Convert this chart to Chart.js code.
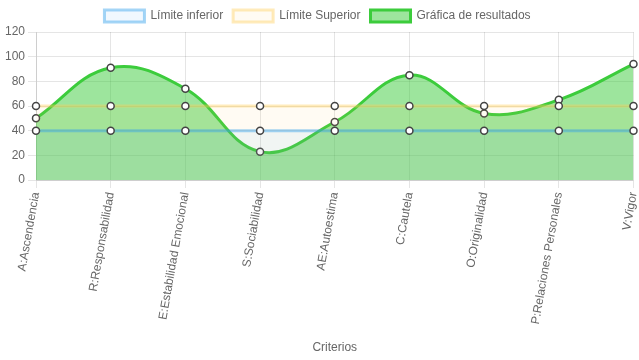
<!DOCTYPE html>
<html>
<head>
    <title>Criterios</title>
    <script src="https://cdn.jsdelivr.net/npm/chart.js@4.4.0/dist/chart.umd.min.js"></script>
    <style>
        body { margin: 0; padding: 0; background: #fff; }
        #wrap { width: 639px; height: 360px; }
    </style>
</head>
<body>
    <div id="wrap"><canvas id="chart"></canvas></div>
    <script>
        const categories = ['A:Ascendencia', 'R:Responsabilidad', 'E:Estabilidad Emocional', 'S:Sociabilidad',
            'AE:Autoestima', 'C:Cautela', 'O:Originalidad', 'P:Relaciones Personales', 'V:Vigor'];
        const lowerLimit = [40, 40, 40, 40, 40, 40, 40, 40, 40];
        const upperLimit = [60, 60, 60, 60, 60, 60, 60, 60, 60];
        const results = [50, 91, 74, 23, 47, 85, 54, 65, 94];
        const yTicks = [0, 20, 40, 60, 80, 100, 120];

        Chart.defaults.font.family = 'Arial, "Liberation Sans", sans-serif';
        Chart.defaults.font.size = 12;
        Chart.defaults.color = '#666';

        const pointStyle = {
            pointBackgroundColor: '#fff',
            pointBorderColor: '#444',
            pointBorderWidth: 1.5,
            pointRadius: 3.5
        };

        new Chart(document.getElementById('chart'), {
            type: 'line',
            data: {
                labels: categories,
                datasets: [
                    Object.assign({
                        label: 'Límite inferior',
                        data: lowerLimit,
                        borderColor: 'rgba(54, 162, 235, 0.45)',
                        backgroundColor: 'rgba(54, 162, 235, 0.07)',
                        borderWidth: 3,
                        fill: 'origin',
                        tension: 0
                    }, pointStyle),
                    Object.assign({
                        label: 'Límite Superior',
                        data: upperLimit,
                        borderColor: 'rgba(255, 205, 86, 0.4)',
                        backgroundColor: 'rgba(255, 205, 86, 0.07)',
                        borderWidth: 3,
                        fill: 'origin',
                        tension: 0
                    }, pointStyle),
                    Object.assign({
                        label: 'Gráfica de resultados',
                        data: results,
                        borderColor: '#3ccc3c',
                        backgroundColor: 'rgba(50, 200, 50, 0.48)',
                        borderWidth: 3,
                        fill: 'origin',
                        tension: 0.4
                    }, pointStyle)
                ]
            },
            options: {
                responsive: true,
                maintainAspectRatio: false,
                animation: false,
                layout: { padding: { right: 4 } },
                plugins: {
                    legend: {
                        position: 'top',
                        labels: { boxWidth: 40, boxHeight: 12 }
                    },
                    tooltip: { enabled: false }
                },
                scales: {
                    x: {
                        ticks: { minRotation: 80, maxRotation: 80 },
                        title: { display: true, text: 'Criterios', padding: { top: 4, bottom: 5 } },
                        afterFit: s => {
                            s.height = 180;
                            s.paddingRight = 0;
                            s.paddingLeft = 0;
                        }
                    },
                    y: {
                        min: 0,
                        max: 120,
                        afterBuildTicks: axis => { axis.ticks = yTicks.map(v => ({ value: v })); },
                        afterFit: s => { s.width = 36; }
                    }
                }
            }
        });
    </script>
</body>
</html>
